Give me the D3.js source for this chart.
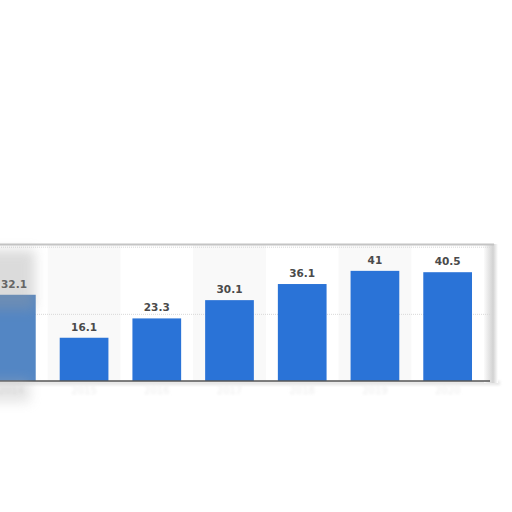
<!DOCTYPE html>
<html>
<head>
<meta charset="utf-8">
<script src="https://cdn.jsdelivr.net/npm/d3@7"></script>
<style>
  body { margin: 0; background: #fff; }
  svg { display: block; }
</style>
</head>
<body>
<div id="chart"></div>
<script>
// category labels are blurred out in the reference, years are a guess
const categories = ['2014', '2015', '2016', '2017', '2018', '2019', '2020']
const values = [32.1, 16.1, 23.3, 30.1, 36.1, 41, 40.5]
const gridTicks = [25, 50]

const width = 512
const height = 512
const margin = { top: 244, right: 28, bottom: 131, left: -25 }
const innerW = width - margin.left - margin.right
const innerH = height - margin.top - margin.bottom
const panelW = innerW + 6

const svg = d3.select('#chart')
  .append('svg')
  .attr('width', width)
  .attr('height', height)

const defs = svg.append('defs')
defs.append('filter').attr('id', 'blur')
  .attr('x', '-50%').attr('y', '-50%').attr('width', '200%').attr('height', '200%')
  .append('feGaussianBlur').attr('stdDeviation', 6)
defs.append('filter').attr('id', 'soft')
  .attr('x', '-20%').attr('y', '-50%').attr('width', '140%').attr('height', '200%')
  .append('feGaussianBlur').attr('stdDeviation', 1.5)
const edge = defs.append('linearGradient').attr('id', 'edge')
edge.append('stop').attr('offset', '0%').attr('stop-color', '#fbfbfb')
edge.append('stop').attr('offset', '65%').attr('stop-color', '#d2d2d2')
edge.append('stop').attr('offset', '100%').attr('stop-color', '#ffffff')

const g = svg.append('g')
  .attr('transform', 'translate(' + margin.left + ',' + margin.top + ')')

const x = d3.scaleBand()
  .domain(categories)
  .range([0, innerW])
  .paddingInner(0.33)
  .paddingOuter(0.165)

const y = d3.scaleLinear()
  .domain([0, 51])
  .range([innerH, 0])

// shadow under the panel
g.append('rect')
  .attr('x', 20).attr('y', innerH)
  .attr('width', panelW - 10).attr('height', 4)
  .attr('fill', '#e4e4e4')
  .attr('filter', 'url(#soft)')

// panel
g.append('rect')
  .attr('x', 0).attr('y', 0)
  .attr('width', panelW).attr('height', innerH)
  .attr('fill', '#fff')

// alternating column bands
g.selectAll('.band')
  .data(categories.filter((d, i) => i % 2 === 1))
  .join('rect')
  .attr('class', 'band')
  .attr('x', d => x(d) - x.step() * 0.165)
  .attr('y', 0)
  .attr('width', x.step())
  .attr('height', innerH)
  .attr('fill', '#f9f9f9')

// right curled edge
g.append('rect')
  .attr('x', panelW - 6).attr('y', 0)
  .attr('width', 14).attr('height', innerH + 2)
  .attr('fill', 'url(#edge)')

// top border
g.append('line')
  .attr('x1', 0).attr('x2', panelW + 4)
  .attr('y1', 0.5).attr('y2', 0.5)
  .attr('stroke', '#c4c4c4')
  .attr('stroke-width', 2)

// grid
g.append('g')
  .call(d3.axisLeft(y).tickValues(gridTicks).tickSize(-panelW).tickFormat(''))
  .call(a => a.select('.domain').remove())
  .call(a => a.selectAll('line')
    .attr('stroke', '#d8d8d8')
    .attr('stroke-dasharray', '1,1'))

// bars
g.selectAll('.bar')
  .data(values)
  .join('rect')
  .attr('class', 'bar')
  .attr('x', (d, i) => x(categories[i]))
  .attr('y', d => y(d))
  .attr('width', x.bandwidth())
  .attr('height', d => innerH - y(d))
  .attr('fill', (d, i) => i === 0 ? '#5386c4' : '#2a73d7')

// value labels (first one nudged so it stays inside the window)
g.selectAll('.val')
  .data(values)
  .join('text')
  .attr('class', 'val')
  .attr('x', (d, i) => Math.max(x(categories[i]) + x.bandwidth() / 2, 39))
  .attr('y', d => y(d) - 7)
  .attr('text-anchor', 'middle')
  .attr('font-family', 'DejaVu Sans, sans-serif')
  .attr('font-size', 10.5)
  .attr('font-weight', 'bold')
  .attr('fill', '#4a4a4a')
  .text(d => d)

// x axis, labels washed out like the reference
const xAxis = g.append('g')
  .attr('transform', 'translate(0,' + innerH + ')')
  .call(d3.axisBottom(x).tickSize(0).tickPadding(6))
xAxis.select('.domain').remove()
xAxis.selectAll('text')
  .attr('font-family', 'DejaVu Sans, sans-serif')
  .attr('font-size', 10)
  .attr('fill', '#ececec')
  .attr('filter', 'url(#soft)')
g.append('line')
  .attr('x1', 0).attr('x2', panelW)
  .attr('y1', innerH).attr('y2', innerH)
  .attr('stroke', '#555')
  .attr('stroke-width', 1.5)

// grey smudge over the left edge
svg.append('rect')
  .attr('x', -20).attr('y', 250)
  .attr('width', 55).attr('height', 60)
  .attr('fill', '#9a9a9a')
  .attr('opacity', 0.35)
  .attr('filter', 'url(#blur)')
svg.append('rect')
  .attr('x', -20).attr('y', 380)
  .attr('width', 50).attr('height', 22)
  .attr('fill', '#b5b5b5')
  .attr('opacity', 0.35)
  .attr('filter', 'url(#blur)')
</script>
</body>
</html>
